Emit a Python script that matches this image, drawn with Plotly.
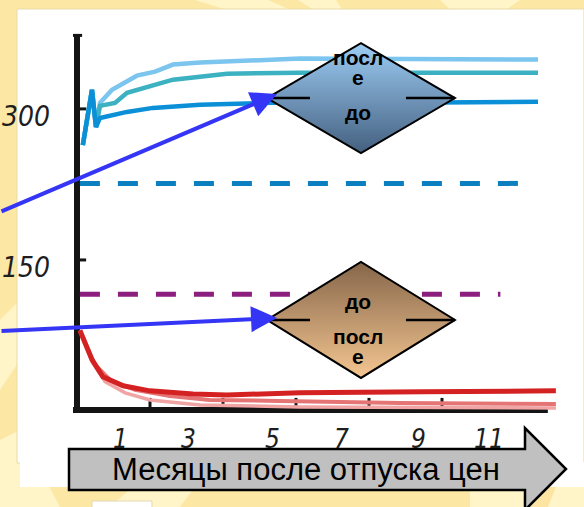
import plotly.graph_objects as go

# ---------------- data ----------------
# Months after price liberalisation and index values for each series
dark_blue_m = [0.16, 0.41, 0.52, 0.63, 1.37, 2.08, 3.37, 5.21, 8.85, 12.63]
dark_blue_v = [264, 319, 282, 291, 297, 301, 304, 306, 306, 307]

teal_m = [0.16, 0.41, 0.52, 0.63, 1.04, 1.37, 2.63, 4.11, 6.11, 12.63]
teal_v = [264, 319, 282, 303, 306, 316, 329, 335, 336, 336]

light_blue_m = [0.16, 0.41, 0.52, 0.63, 0.96, 1.64, 2.14, 2.63, 3.37, 6.11, 12.63]
light_blue_v = [264, 319, 282, 306, 319, 333, 337, 344, 346, 350, 349]

dark_red_m = [0.08, 0.41, 0.71, 1.26, 2.0, 3.18, 4.11, 5.01, 6.11, 9.5, 13.12]
dark_red_v = [80, 51, 34, 25, 20, 17, 16, 17, 18, 19, 20]

pink_m = [0.08, 0.49, 0.90, 1.59, 2.55, 3.64, 5.56, 8.85, 13.12]
pink_v = [80, 46, 31, 21, 15, 11, 10, 8, 7]

pale_red_m = [0.08, 0.41, 0.77, 1.32, 2.0, 3.37, 6.11, 13.12]
pale_red_v = [80, 49, 29, 18, 11, 6, 4, 3]

# Reference levels (dashed)
blue_level = 226
blue_level_span = [0.08, 12.16]
purple_level = 116
purple_level_span = [0.08, 11.6]

# Axis labels
y_tick_vals = [150, 300]
y_tick_text = ["150", "300"]
x_tick_text = ["1", "3", "5", "7", "9", "11"]
x_tick_pos = [1.2, 3.05, 5.35, 7.25, 9.35, 11.3]
x_minor_ticks = [2, 4, 6, 8, 10]
x_title = "Месяцы после отпуска цен"

# ---------------- geometry ----------------
W, H = 584, 507
ML, MR, MT, MB = 60, 4, 20, 87
PW, PH = W - ML - MR, H - MT - MB
SX, SY = 36.5, 1.007          # pixels per month, pixels per unit
X0 = -(77 - ML) / SX
Y0 = (411 - (H - MB)) / SY


def px(xp):
    return (xp - ML) / PW


def py(yp):
    return (H - MB - yp) / PH


def poly_path(pts):
    return "M " + " L ".join(f"{px(a):.5f},{py(b):.5f}" for a, b in pts) + " Z"


fig = go.Figure()

# series lines
for m, v, c, w in [
    (light_blue_m, light_blue_v, "#7cc5ee", 4.5),
    (teal_m, teal_v, "#3cb1c1", 4.5),
    (dark_blue_m, dark_blue_v, "#0b90d8", 4.5),
    (pale_red_m, pale_red_v, "#f0a4a4", 3.5),
    (pink_m, pink_v, "#e57474", 4),
    (dark_red_m, dark_red_v, "#d42222", 5),
]:
    fig.add_trace(go.Scatter(x=m, y=v, mode="lines", line=dict(color=c, width=w),
                             hoverinfo="skip", showlegend=False))

# dashed reference levels
for lvl, span, c in [(blue_level, blue_level_span, "#0c7fc0"),
                     (purple_level, purple_level_span, "#8c1f7e")]:
    fig.add_trace(go.Scatter(x=span, y=[lvl, lvl], mode="lines",
                             line=dict(color=c, width=5, dash="20px,18px"),
                             hoverinfo="skip", showlegend=False))

# decision diamonds
diamonds = [
    dict(cx=7.78, cy=310.8, hw=2.575, hh=54.6,
         scale=[[0, "#44607f"], [1, "#9dccf4"]],
         words=[("посл", 351), ("е", 331), ("до", 296)]),
    dict(cx=7.78, cy=90.4, hw=2.575, hh=57.6,
         scale=[[0, "#f4c691"], [1, "#86664a"]],
         words=[("до", 109), ("посл", 74), ("е", 54)]),
]
for d in diamonds:
    cx, cy, hw, hh = d["cx"], d["cy"], d["hw"], d["hh"]
    fig.add_trace(go.Scatter(
        x=[cx - hw, cx, cx + hw, cx, cx - hw],
        y=[cy, cy + hh, cy, cy - hh, cy],
        mode="lines", fill="toself",
        fillgradient=dict(type="vertical", colorscale=d["scale"]),
        line=dict(color="black", width=2),
        hoverinfo="skip", showlegend=False))

shapes = []

# page background: white panel and light rays
for pts in [
    [(195, 0), (268, 0), (300, 14), (240, 14)],
    [(298, 0), (336, 0), (345, 14), (320, 14)],
    [(440, 0), (520, 0), (500, 14), (455, 14)],
    [(0, 320), (20, 300), (20, 360), (0, 390)],
    [(0, 440), (20, 430), (60, 507), (0, 507)],
    [(470, 480), (584, 480), (584, 507), (470, 507)],
    [(140, 480), (200, 480), (180, 507), (110, 507)],
]:
    shapes.append(dict(type="path", path=poly_path(pts), xref="paper", yref="paper",
                       fillcolor="#fff5c9", line=dict(width=0), layer="below"))
shapes.append(dict(type="path", path=poly_path([(535, 487), (556, 487), (548, 507), (528, 507)]),
                   xref="paper", yref="paper", fillcolor="#fde4a2",
                   line=dict(width=0), layer="below"))
shapes.append(dict(type="path", path=poly_path([(17, 9), (584, 9), (584, 463), (17, 463)]),
                   xref="paper", yref="paper", fillcolor="white",
                   line=dict(color="#eadba6", width=1), layer="below"))
shapes.append(dict(type="path", path=poly_path([(20, 462), (584, 462), (584, 487), (20, 487)]),
                   xref="paper", yref="paper", fillcolor="white",
                   line=dict(width=0), layer="below"))
shapes.append(dict(type="path", path=poly_path([(92, 501), (152, 501), (152, 510), (92, 510)]),
                   xref="paper", yref="paper", fillcolor="white",
                   line=dict(color="#e4d7b0", width=1), layer="below"))

# axes drawn by hand
shapes.append(dict(type="line", xref="x", yref="y", x0=0, x1=0, y0=-2, y1=373,
                   line=dict(color="#141414", width=6), layer="below"))
shapes.append(dict(type="line", xref="x", yref="y", x0=-0.11, x1=12.9, y0=1, y1=1,
                   line=dict(color="#141414", width=6), layer="below"))
shapes.append(dict(type="line", xref="x", yref="y", x0=-0.11, x1=0.14, y0=373, y1=373,
                   line=dict(color="#141414", width=3), layer="below"))
for v in y_tick_vals:
    shapes.append(dict(type="line", xref="x", yref="y", x0=0, x1=0.25, y0=v, y1=v,
                       line=dict(color="#141414", width=3), layer="below"))
for m in x_minor_ticks:
    shapes.append(dict(type="line", xref="x", yref="y", x0=m, x1=m, y0=3, y1=13,
                       line=dict(color="#141414", width=3), layer="below"))

# inner strokes of the diamonds
for d in diamonds:
    cx, cy, hw = d["cx"], d["cy"], d["hw"]
    for a, b in [(cx - hw, cx - hw + 43 / SX), (cx + hw - 49 / SX, cx + hw)]:
        shapes.append(dict(type="line", xref="x", yref="y", x0=a, x1=b, y0=cy, y1=cy,
                           line=dict(color="black", width=2.5), layer="above"))

# grey block arrow carrying the axis title
shapes.append(dict(type="path",
                   path=poly_path([(69, 449), (525, 449), (525, 428), (566, 469),
                                   (525, 510), (525, 490), (69, 490)]),
                   xref="paper", yref="paper", fillcolor="#c0c0c0",
                   line=dict(color="black", width=2.5), layer="above"))

annotations = []
label_font = dict(family="Liberation Sans Narrow, DejaVu Sans Condensed, Liberation Sans",
                  color="#1e1e1e")
for v, t in zip(y_tick_vals, y_tick_text):
    annotations.append(dict(x=px(26), xref="paper", y=v, yref="y", yshift=-8,
                            xanchor="center", yanchor="middle",
                            text=f"<i>{t}</i>", showarrow=False,
                            font=dict(size=28, **label_font)))
for m, t in zip(x_tick_pos, x_tick_text):
    annotations.append(dict(x=m, xref="x", y=0, yref="y", yshift=-28,
                            xanchor="center", yanchor="middle",
                            text=f"<i>{t}</i>", showarrow=False,
                            font=dict(size=26, **label_font)))

for d in diamonds:
    for word, v in d["words"]:
        annotations.append(dict(x=7.70, xref="x", y=v, yref="y", text=f"<b>{word}</b>",
                                xanchor="center", yanchor="middle", showarrow=False,
                                font=dict(family="Liberation Sans, Arial", size=21,
                                          color="black")))

annotations.append(dict(x=px(306), xref="paper", y=py(469), yref="paper",
                        xanchor="center", yanchor="middle",
                        text=x_title, showarrow=False,
                        font=dict(family="Liberation Sans, Arial", size=31, color="black")))

# pointer arrows into the diamonds
for tip_m, tip_v, ay in [(5.48, 314.8, 118), (5.48, 92.4, 13)]:
    annotations.append(dict(x=tip_m, y=tip_v, xref="x", yref="y", ax=-292, ay=ay,
                            text="", showarrow=True, arrowhead=2, arrowsize=1.3,
                            arrowwidth=4, arrowcolor="#3535f6", standoff=0,
                            font=dict(size=1)))

fig.update_layout(
    width=W, height=H, autosize=False,
    margin=dict(l=ML, r=MR, t=MT, b=MB, pad=0),
    paper_bgcolor="#fce7a5", plot_bgcolor="rgba(0,0,0,0)",
    xaxis=dict(range=[X0, X0 + PW / SX], visible=False, fixedrange=True),
    yaxis=dict(range=[Y0, Y0 + PH / SY], visible=False, fixedrange=True),
    shapes=shapes, annotations=annotations, showlegend=False,
)

fig.write_html("out.html", config={"displayModeBar": False})
